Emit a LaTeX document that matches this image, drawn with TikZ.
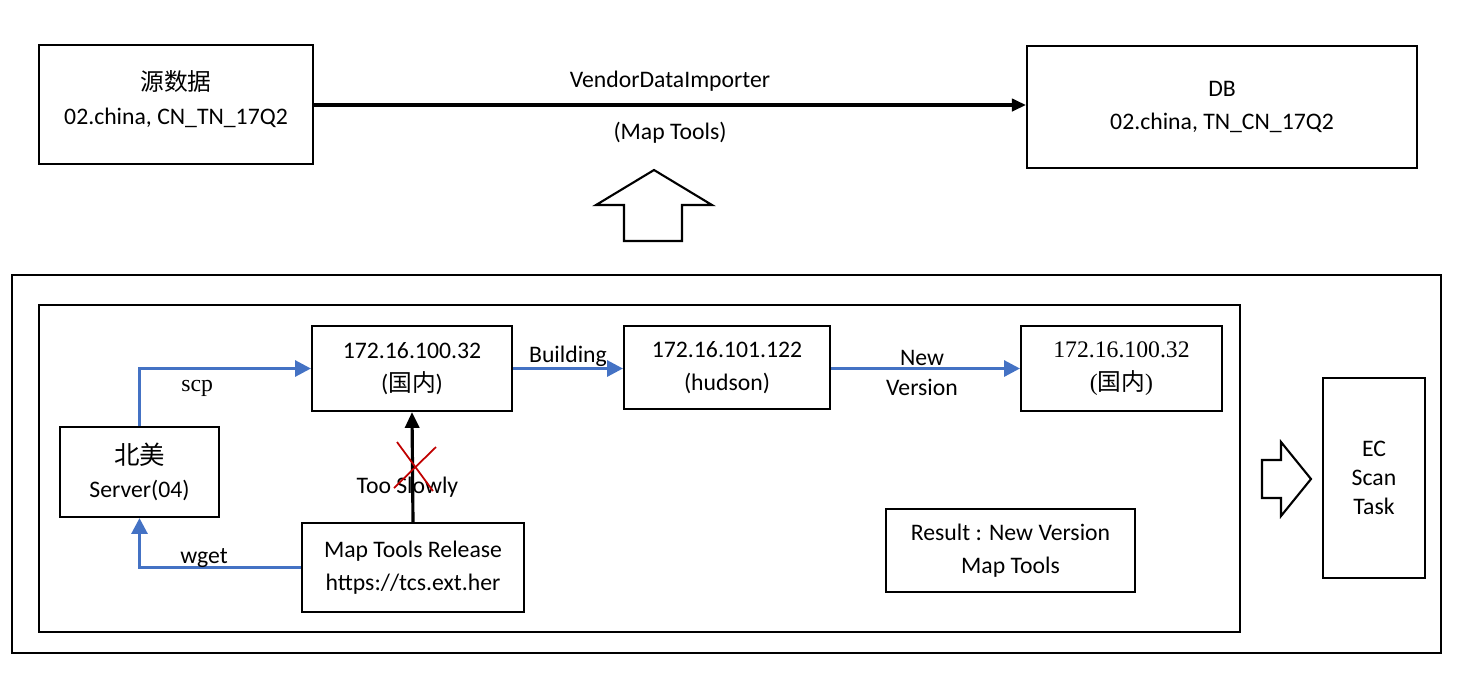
\documentclass[tikz,border=0pt]{standalone}
\usepackage{fontspec}
\setmainfont{Carlito}
\newfontfamily\cjk{Noto Sans CJK SC}
\newfontfamily\tnr{Liberation Serif}
\usetikzlibrary{arrows.meta}
\definecolor{flowblue}{HTML}{4472C4}
\definecolor{crossred}{HTML}{C00000}
\tikzset{
  box/.style={draw, line width=1.2pt, align=center, inner sep=0pt},
  frame/.style={draw, line width=1.2pt, inner sep=0pt},
  flow/.style={flowblue, line width=1.8pt, -{Triangle[length=9pt,width=9pt]}},
  blockarrow/.style={draw, line width=1.2pt, fill=white},
  lbl/.style={inner sep=1pt, text=black}
}
\begin{document}
\begin{tikzpicture}[x=0.02cm, y=-0.02cm, font=\fontsize{13.5}{19}\selectfont]
  \useasboundingbox (0,0) rectangle (1462,698);
  \node [box, minimum width=5.48cm, minimum height=2.38cm, text depth=8pt] (src) at (176,104.5)
        {{\cjk 源数据}\\02.china, CN\_TN\_17Q2};
  \node [box, minimum width=7.8cm, minimum height=2.44cm] (db) at (1222,107)
        {DB\\02.china, TN\_CN\_17Q2};
  \draw [black, line width=1.8pt, -{Triangle[length=8pt,width=7pt]}] (src.east |- 0,105) -- (db.west |- 0,105)
        node [midway, above=6pt, lbl] (vdi) {VendorDataImporter}
        node [midway, below=8pt, lbl] (mt) {(Map Tools)};
  \draw [blockarrow] (654,170) -- (712,205) -- (682,205) -- (682,241) -- (624,241) -- (624,205) -- (596,205) -- cycle;

  \node [frame, minimum width=28.58cm, minimum height=7.56cm] (outer) at (726.5,464) {};
  \node [frame, minimum width=24.02cm, minimum height=6.54cm] (inner) at (639.5,468.5) {};

  \node [box, minimum width=4.0cm, minimum height=1.7cm] (ipa) at (412,368.5)
        {172.16.100.32\\({\cjk 国内})};
  \node [box, minimum width=4.12cm, minimum height=1.66cm] (hudson) at (727,367.5)
        {172.16.101.122\\(hudson)};
  \node [box, minimum width=4.02cm, minimum height=1.7cm, font=\tnr\fontsize{13.5}{19}\selectfont] (ipc) at (1121.5,368.5)
        {172.16.100.32\\({\cjk 国内})};
  \node [box, minimum width=3.18cm, minimum height=1.8cm] (na) at (139.5,472)
        {{\cjk\fontsize{14.5}{21}\selectfont 北美}\\Server(04)};
  \node [box, minimum width=4.44cm, minimum height=1.78cm] (rel) at (413,567.5)
        {Map Tools Release\\https://tcs.ext.her};
  \node [box, minimum width=4.98cm, minimum height=1.66cm] (result) at (1010.5,550.5)
        {Result : New Version\\Map Tools};
  \node [box, minimum width=2.04cm, minimum height=4.0cm, font=\fontsize{13.5}{16.7}\selectfont] (ec) at (1374,478)
        {EC\\Scan\\Task};
  \draw [blockarrow] (1262,460) -- (1281,460) -- (1281,442) -- (1311,479) -- (1281,516) -- (1281,498) -- (1262,498) -- cycle;

  \draw [flow] (na.north) |- (ipa.west)
        node [pos=0.668, below=5pt, lbl, font=\tnr\fontsize{13.5}{16}\selectfont] (scp) {scp};
  \draw [flow] (rel.west) -| (na.south)
        node [pos=0.3, above=-2pt, lbl] (wget) {wget};
  \draw [flow] (ipa.east) -- (hudson.west |- ipa.east)
        node [midway, above=-1pt, lbl] (bld) {Building};
  \draw [flow] (hudson.east |- ipa.east) -- (ipc.west)
        node [midway, above=0pt, lbl, xshift=-2pt] (new) {New}
        node [midway, below=4pt, lbl, xshift=-2pt] (ver) {Version};
  \draw [black, line width=1.8pt, -{Triangle[length=9pt,width=8pt]}] (rel.north) -- (ipa.south)
        node [pos=0.32, lbl, xshift=-3pt] (slow) {Too Slowly};
  \draw [crossred, line width=1pt] (397,442) -- (433,491);
  \draw [crossred, line width=1pt] (436,447) -- (394,488);
\end{tikzpicture}
\end{document}
